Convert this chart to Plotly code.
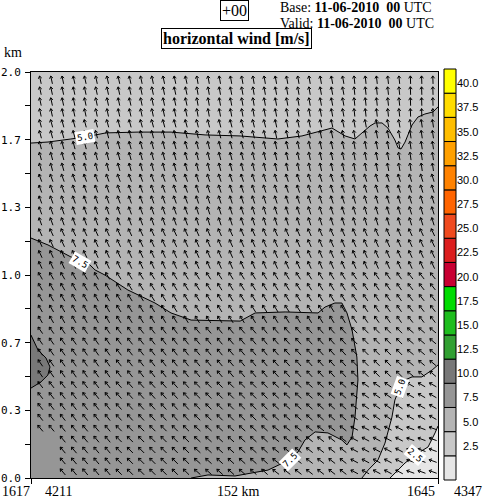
import numpy as np
import plotly.graph_objects as go

# ---------------- data ----------------
# contour boundaries: distance along section (km), height (km)
top_bnd_x = [0, 6.35, 14.9, 20.2, 28.0, 40.0, 52.3, 65.0, 78.1, 92.2, 101.2, 112.4, 117.3, 121.0,
             126.6, 128.5, 131.1, 133.3, 135.9, 137.1, 138.2, 139.7, 142.3, 144.5, 147.1, 150.1, 152]
top_bnd_z = [1.650, 1.655, 1.670, 1.680, 1.700, 1.704, 1.704, 1.690, 1.685, 1.670, 1.685, 1.724, 1.685, 1.670,
             1.734, 1.749, 1.749, 1.724, 1.665, 1.626, 1.621, 1.655, 1.739, 1.778, 1.793, 1.803, 1.828]

dark_x = [0, 6.35, 14.9, 21.3, 23.9, 27.6, 36.2, 46.3, 52.3, 59.8, 78.1, 83.7, 94.9, 107.2, 109.8, 113.5,
          116.1, 118.0, 119.9, 121.7, 122.1, 121.0, 119.9, 118.0, 116.1, 110.9, 106.1, 102.3, 99.7, 94.9,
          88.5, 82.5, 76.2, 66.1, 59.8]
dark_z = [1.182, 1.148, 1.089, 1.059, 1.025, 1.000, 0.926, 0.862, 0.813, 0.778, 0.773, 0.813, 0.818, 0.813,
          0.842, 0.862, 0.862, 0.813, 0.729, 0.596, 0.483, 0.300, 0.202, 0.163, 0.187, 0.222, 0.227, 0.187,
          0.128, 0.079, 0.039, 0.025, 0.010, 0.015, 0.0]

bump_x = [0, 2.6, 5.6, 7.1, 6.3, 3.7, 0]
bump_z = [0.704, 0.631, 0.591, 0.547, 0.507, 0.473, 0.443]

br5_x = [152, 149.8, 146.0, 142.3, 139.7, 137.8, 135.9, 134.8, 132.2, 129.6, 125.9, 123.6]
br5_z = [0.557, 0.532, 0.498, 0.498, 0.483, 0.448, 0.384, 0.300, 0.172, 0.089, 0.039, 0.0]

br25_x = [152, 150.9, 148.3, 143.4, 139.7, 135.9, 134.1]
br25_z = [0.256, 0.222, 0.153, 0.113, 0.074, 0.025, 0.0]

# contour labels
clab_text = ["5.0", "7.5", "7.5", "5.0", "2.5"]
clab_x = [20.2, 18.3, 96.7, 137.8, 143.4]
clab_z = [1.68, 1.064, 0.089, 0.448, 0.113]
clab_ang = [-10, 30, -45, -70, 40]

# colour classes (m/s)
level_labels = ["2.5", "5.0", "7.5", "10.0", "12.5", "15.0", "17.5", "20.0", "22.5", "25.0",
                "27.5", "30.0", "32.5", "35.0", "37.5", "40.0"]
class_colors = ["#E6E6E6", "#C8C8C8", "#B4B4B4", "#969696", "#787878", "#32A032", "#1EBE1E", "#00DC00",
                "#C80032", "#DC1E1E", "#F04A1E", "#FF6400", "#FF8200", "#FFA000", "#FFBE00", "#FFDC00", "#FFFF00"]

# wind arrow direction (deg from vertical, leftward), by height band (rows) and distance band (cols)
dir_z_edges = [0.25, 0.5, 0.75, 1.0, 1.25, 1.5, 1.75]
dir_x_edges = [30, 60, 90, 120, 140]
dir_table = [
    [40, 45, 48, 52, 62, 70],
    [38, 42, 45, 48, 55, 60],
    [35, 38, 40, 42, 45, 50],
    [30, 32, 32, 32, 35, 38],
    [25, 25, 24, 24, 24, 25],
    [20, 20, 18, 18, 17, 17],
    [15, 15, 14, 12, 10, 8],
    [12, 12, 10, 10, 6, 2],
]
arrow_x = np.linspace(3.5, 150.1, 36)
arrow_z = np.linspace(0.03, 1.961, 37)

# ---------------- geometry helpers ----------------
W, H = 487, 499
L_PX, R_PX, T_PX, B_PX = 31, 438, 72, 478
XMAX, ZMAX = 152.0, 2.0
xpx = (R_PX - L_PX) / XMAX
zpx = (B_PX - T_PX) / ZMAX


def px2paper(px, py):
    return (px - L_PX) / (R_PX - L_PX), (B_PX - py) / (B_PX - T_PX)


fig = go.Figure()


def poly(xs, zs, color):
    fig.add_trace(go.Scatter(x=xs, y=zs, mode="lines", fill="toself", fillcolor=color,
                             line=dict(width=0), hoverinfo="skip"))


def cline(xs, zs):
    fig.add_trace(go.Scatter(x=xs, y=zs, mode="lines", line=dict(color="black", width=1),
                             hoverinfo="skip"))


poly(top_bnd_x + [XMAX, 0], top_bnd_z + [ZMAX, ZMAX], class_colors[1])
poly(dark_x + [0], dark_z + [0], class_colors[3])
poly(bump_x, bump_z, class_colors[4])
poly(br5_x + [XMAX], br5_z + [0], class_colors[1])
poly(br25_x + [XMAX], br25_z + [0], class_colors[0])
for bx, bz in [(top_bnd_x, top_bnd_z), (dark_x, dark_z), (bump_x, bump_z), (br5_x, br5_z), (br25_x, br25_z)]:
    cline(bx, bz)

# arrows
AL, AH, AB = 8.0, 3.0, np.deg2rad(35)
ax_, ay_ = [], []
for x0 in arrow_x:
    ci = int(np.searchsorted(dir_x_edges, x0))
    for z0 in arrow_z:
        if x0 < 9 and z0 < 0.22:
            continue
        ri = int(np.searchsorted(dir_z_edges, z0))
        a = np.deg2rad(dir_table[ri][ci])
        ux, uy = -np.sin(a), np.cos(a)
        tx, ty = x0 - AL / 2 * ux / xpx, z0 - AL / 2 * uy / zpx
        hx, hy = x0 + AL / 2 * ux / xpx, z0 + AL / 2 * uy / zpx
        ax_ += [tx, hx, None]
        ay_ += [ty, hy, None]
        for s in (1, -1):
            bx = np.cos(s * AB) * (-ux) - np.sin(s * AB) * (-uy)
            by = np.sin(s * AB) * (-ux) + np.cos(s * AB) * (-uy)
            ax_ += [hx, hx + AH * bx / xpx, None]
            ay_ += [hy, hy + AH * by / zpx, None]
fig.add_trace(go.Scatter(x=ax_, y=ay_, mode="lines", line=dict(color="black", width=1),
                         hoverinfo="skip"))

# contour labels
for t, x, z, ang in zip(clab_text, clab_x, clab_z, clab_ang):
    fig.add_annotation(x=x, y=z, xref="x", yref="y", text=t, showarrow=False, textangle=ang,
                       font=dict(family="DejaVu Sans Mono", size=9, color="black"),
                       bgcolor="white", borderpad=1)

# colour bar drawn as boxes
cb_l, cb_r, cb_t, cb_b = 444, 456, 69, 480
n = len(class_colors)
step = (cb_b - cb_t) / n
for i, c in enumerate(class_colors):
    y0p = cb_b - i * step
    y1p = cb_b - (i + 1) * step
    x0, y0 = px2paper(cb_l, y0p)
    x1, y1 = px2paper(cb_r, y1p)
    fig.add_shape(type="rect", xref="paper", yref="paper", x0=x0, x1=x1, y0=y0, y1=y1,
                  fillcolor=c, line=dict(color="black", width=1), layer="above")
for i, lab in enumerate(level_labels):
    yb = cb_b - (i + 1) * step
    lx, ly = px2paper(480, yb - 2)
    fig.add_annotation(x=lx, y=ly, xref="paper", yref="paper", text=lab, showarrow=False,
                       xanchor="right", yanchor="bottom",
                       font=dict(family="Liberation Sans", size=11, color="black"))


# titles
def txt(px, py, text, anchor="left", size=15, box=False, family="Liberation Serif"):
    x, y = px2paper(px, py)
    kw = dict(bordercolor="black", borderwidth=1, borderpad=1) if box else {}
    fig.add_annotation(x=x, y=y, xref="paper", yref="paper", text=text, showarrow=False,
                       xanchor=anchor, yanchor="middle",
                       font=dict(family=family, size=size, color="black"), **kw)


txt(234, 11, "+00", anchor="center", size=16, box=True)
txt(278, 8, "Base: <b>11-06-2010</b>&nbsp;&nbsp;<b>00</b> UTC", size=14)
txt(278, 23, "Valid: <b>11-06-2010</b>&nbsp;&nbsp;<b>00</b> UTC", size=14)
txt(236, 38, "<b>horizontal wind [m/s]</b>", anchor="center", size=16, box=True)
txt(2, 53, "km", size=14)
txt(0, 491, "1617", size=14)
txt(43, 491, "4211", size=14)
txt(238, 491, "152 km", anchor="center", size=14)
txt(437, 491, "1645", anchor="right", size=14)
txt(452, 491, "4347", size=14)

tv = [k / 6 for k in range(13)]
tt = ["0.0", "", "0.3", "", "0.7", "", "1.0", "", "1.3", "", "1.7", "", "2.0"]
fig.update_layout(
    width=W, height=H, showlegend=False,
    margin=dict(l=L_PX, r=W - R_PX, t=T_PX, b=H - B_PX, autoexpand=False),
    paper_bgcolor="white", plot_bgcolor=class_colors[2],
    xaxis=dict(range=[0, XMAX], showgrid=False, zeroline=False, showline=True, mirror=True,
               linecolor="black", linewidth=1, ticks="outside", ticklen=5, tickcolor="black",
               tickvals=[0, XMAX], showticklabels=False, automargin=False, fixedrange=True),
    yaxis=dict(range=[0, ZMAX], showgrid=False, zeroline=False, showline=True, mirror=True,
               linecolor="black", linewidth=1, ticks="outside", ticklen=5, tickcolor="black",
               tickvals=tv, ticktext=tt, automargin=False, fixedrange=True, ticklabelstandoff=2,
               tickfont=dict(family="DejaVu Sans Mono", size=11, color="black")),
)
fig.write_html("out.html", config={"displayModeBar": False},
               post_script="document.body.style.margin='0';document.body.style.overflow='hidden';")
